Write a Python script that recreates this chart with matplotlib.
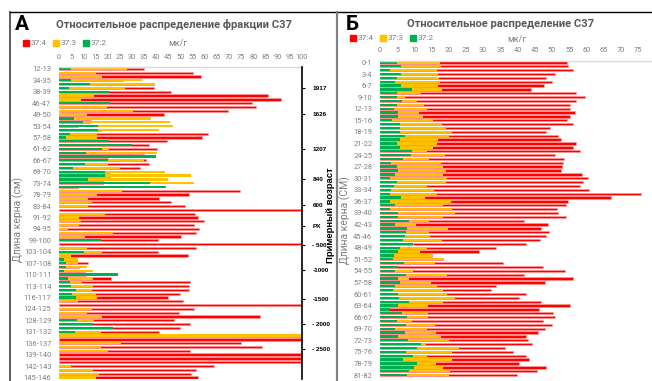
import matplotlib.pyplot as plt
from matplotlib.patches import Rectangle
from matplotlib.lines import Line2D
import numpy as np

plt.rcParams['font.family'] = ['Roboto', 'DejaVu Sans']

W, H = 652, 381
RED, YEL, GRN = '#FF0000', '#FFC000', '#00B050'
GRAY = '#7F7F7F'

# ---------- панель А ----------
labels_a = ["12-13", "34-35", "38-39", "46-47", "49-50", "53-54", "57-58", "61-62",
            "66-67", "69-70", "73-74", "78-79", "83-84", "91-92", "94-95", "99-100",
            "103-104", "107-108", "110-111", "113-114", "116-117", "124-125", "128-129",
            "131-132", "136-137", "139-140", "142-143", "145-146"]
red_a = [34.8, 55, 58.5, 26.5, 39, 39, 46, 86, 91.5, 79.6, 81, 69.5, 43.3, 13, 12.8, 7.7,
         17.3, 61.5, 59, 44.4, 37.2, 40.2, 35, 20, 36, 37, 33.4, 21, 21, 18.3, 18.3, 8,
         74.6, 53.6, 41.3, 46, 51.9, 110, 55.8, 57.1, 59.5, 55.4, 57.8, 56.5, 50.1, 40.6,
         110, 56.5, 40.9, 53, 7.3, 11.8, 8.4, 10.9, 11.2, 21.4, 54, 53.3, 53.6, 49.6, 45,
         51.1, 110, 55.4, 49.2, 82.7, 47.4, 53.8, 49.7, 41, 110, 110, 75, 83.4, 54, 110,
         110, 110, 63.6, 56.5, 54.5, 57]
yellow_a = [27.9, 15.1, 17.6, 34, 39, 27, 12, 14.6, 9, 20, 19.6, 30.6, 11.4, 37.8, 45.7,
            46.8, 41, 15.5, 15.5, 10.7, 14, 20.6, 40.2, 40, 35, 20.3, 24.9, 43.7, 54.4,
            44.8, 55.4, 44, 25.8, 15.5, 12.1, 13.5, 12, 0, 19, 8.4, 9, 8.4, 3.8, 22.4, 10.7,
            10.7, 0, 11.4, 17.6, 5.1, 7.4, 8, 11.4, 14, 6, 13.9, 9.6, 14, 13.5, 15.2, 15.7,
            7.7, 0, 13.6, 11.4, 17.6, 14.4, 10, 2.2, 17.3, 110, 0, 25.6, 17.3, 20, 0, 0, 0,
            5, 14, 16.5, 15.4]
green_a = [5, 0, 0, 5, 12.8, 4, 21, 0, 0, 21, 0, 0, 0, 6.2, 9.7, 16, 16, 4.5, 3, 20.6, 30,
           17.6, 11, 40, 20, 10.7, 5.9, 19, 19, 12, 37.5, 44, 0, 0, 0, 0, 0, 0, 0, 0, 0, 0,
           0, 0, 0, 17.3, 0, 0, 10.4, 0, 1.9, 3, 3, 2.2, 24.2, 3.7, 4.4, 5, 7, 5.5, 7, 0, 0,
           0, 0, 0, 7.6, 13.9, 22.3, 6.6, 0, 0, 0, 0, 0, 0, 0, 0, 0, 0, 0, 0]
age_labels = ["1917", "1626", "1207", "840", "600", "PX", "- 500", "-1000", "-1500",
              "- 2000", "- 2500"]
age_rows = [5.0, 11.8, 20.9, 28.8, 35.8, 41.3, 46.3, 52.9, 60.5, 66.9, 73.4]

# ---------- панель Б ----------
red_b = [54.3, 54.7, 56, 51, 48.4, 50, 47.7, 44, 57, 59.6, 57, 55.2, 55.2, 56.7, 55.2,
         54.3, 56, 49.4, 48.4, 51.7, 52.5, 57, 56.2, 58.3, 51, 53.5, 53.3, 53, 52.5, 58.6,
         60.6, 59, 58.3, 60.9, 76, 67.3, 54.7, 54, 51.4, 51.7, 54, 42, 48.9, 46.8, 49.2,
         48.4, 46.5, 42.6, 33.6, 28.8, 15, 18.4, 35.9, 47.5, 53.8, 42, 56, 48, 33.6, 32.3,
         42.6, 40.4, 46.7, 55.2, 46.3, 50.2, 51, 47.3, 49.9, 48, 46, 42.6, 42.9, 44.3,
         36.3, 38.8, 42.4, 43.4, 40.4, 48.4, 45.8, 39.7]
yellow_b = [17.4, 17.7, 16.5, 17, 17.2, 17.4, 17, 18, 11.8, 7.3, 10.9, 12.9, 13.6, 11.4,
            12.4, 15.5, 18, 19.2, 20.8, 20, 17, 16.7, 15.5, 13.6, 19, 14.3, 17.7, 18.4, 19.2,
            18.2, 19.4, 19.2, 13.6, 15.8, 16.5, 13, 20.6, 18.4, 21, 21.8, 18.2, 14.3, 10.5,
            19.9, 14.3, 14.5, 18, 10, 13.6, 11.6, 15, 18.2, 16, 5.3, 9.7, 19.4, 8.4, 14.8,
            16.7, 18.4, 19.6, 21.8, 18.4, 13.9, 1.5, 13.9, 13.9, 9.2, 16, 13.6, 16.3, 17.7,
            20.2, 13.3, 23, 20.8, 13.8, 20.8, 16.3, 18.4, 20.5, 20]
green_b = [4.8, 6, 3, 6, 4.8, 4.4, 6, 9.2, 4.8, 4.8, 6.3, 4.8, 4, 5.3, 5.3, 3.4, 5.8, 5.8,
           5.8, 7.3, 5.8, 5, 5.8, 9.2, 8.9, 6.8, 3.2, 4.8, 5.3, 4.4, 2.9, 4.8, 4, 3.1, 3,
           6.1, 2.9, 4.4, 2.9, 5.1, 5.1, 8.4, 4.4, 7.8, 7.6, 7.3, 6.6, 9.5, 5.8, 5.3, 4, 3.9,
           7, 5.3, 4.4, 7.6, 5.3, 5.8, 4.4, 3.9, 5.1, 5.5, 8.5, 5.3, 2.9, 6.3, 7.8, 4.8, 7.6,
           4.4, 7.3, 5.1, 8, 11.8, 10.7, 7.6, 9.5, 6.6, 10.7, 10, 8.4, 7.8]
labels_b = ["%d-%d" % (i, i + 1) for i in range(0, len(red_b), 3)]

fig = plt.figure(figsize=(W / 100, H / 100), dpi=100)


def fx(x):
    return x / W


def fy(y):
    return 1 - y / H


def panel(rect, red, yel, grn, labels, xmax, xticks):
    ax = fig.add_axes(rect)
    n = len(red)
    y = np.arange(n)
    ax.barh(y, red, height=0.6, color=RED, edgecolor='#FF9A9A', linewidth=0.4)
    ax.barh(y, yel, height=0.6, color=YEL, linewidth=0)
    ax.barh(y, grn, height=0.6, color=GRN, linewidth=0)
    ax.set_xlim(0, xmax)
    ax.set_ylim(n - 0.5, -0.5)
    ax.xaxis.tick_top()
    ax.set_xticks(xticks)
    ax.tick_params(axis='x', length=0, pad=4.5, labelsize=5.3, labelcolor=GRAY)
    ax.set_yticks(np.arange(0, n, 3))
    ax.set_yticklabels(labels)
    ax.tick_params(axis='y', length=0, pad=5.5, labelsize=5.4, labelcolor=GRAY)
    for s in ['left', 'right', 'bottom']:
        ax.spines[s].set_visible(False)
    ax.spines['top'].set_color('#D9D9D9')
    ax.spines['top'].set_linewidth(1)
    return ax


ax_a = panel([fx(59), fy(379.4), fx(243), 312.4 / H], red_a, yellow_a, green_a,
             labels_a, 100, np.arange(0, 101, 5))
ax_b = panel([fx(380), fy(377), fx(272), 316.5 / H], red_b, yellow_b, green_b,
             labels_b, 79.1, np.arange(0, 76, 5))

# правая ось возраста
ax2 = ax_a.twinx()
ax2.set_ylim(ax_a.get_ylim())
ax2.set_yticks(age_rows)
ax2.set_yticklabels(age_labels, fontweight='bold', fontsize=4.6,
                    family=['Liberation Sans', 'DejaVu Sans'])
ax2.tick_params(axis='y', length=2.5, width=0.8, pad=5, color='black')
for s in ['left', 'top', 'bottom']:
    ax2.spines[s].set_visible(False)
ax2.spines['right'].set_linewidth(1.2)
fig.text(fx(331), fy(215), "Примерный возраст", rotation=90, ha='center', va='center',
         fontsize=6.8, fontweight='bold', family=['Liberation Sans', 'DejaVu Sans'])

# подписи
fig.text(fx(21.5), fy(25), "А", fontsize=15, fontweight='bold', ha='center', va='center')
fig.text(fx(174), fy(25), "Относительное распределение фракции С37", fontsize=8,
         fontweight='bold', color='#595959', ha='center', va='center')
fig.text(fx(352), fy(24.5), "Б", fontsize=15, fontweight='bold', ha='center', va='center')
fig.text(fx(501), fy(24), "Относительное распределение С37", fontsize=8,
         fontweight='bold', color='#595959', ha='center', va='center')
fig.text(fx(18), fy(220), "Длина керна (см)", rotation=90, fontsize=7.5, color=GRAY,
         ha='center', va='center')
fig.text(fx(345), fy(220), "Длина керна (СМ)", rotation=90, fontsize=7.5, color=GRAY,
         ha='center', va='center')
fig.text(fx(178), fy(44), "мк/г", fontsize=6.5, color=GRAY, ha='center', va='center')
fig.text(fx(517), fy(39), "мк/г", fontsize=6.5, color=GRAY, ha='center', va='center')

# легенды
for x0, yc in [(23, 43), (350, 38)]:
    for i, (c, t) in enumerate([(RED, "37:4"), (YEL, "37:3"), (GRN, "37:2")]):
        xs = x0 + i * 30
        fig.add_artist(Rectangle((fx(xs), fy(yc + 3)), fx(6), 6 / H, color=c,
                                 transform=fig.transFigure))
        fig.text(fx(xs + 7.5), fy(yc), t, fontsize=6, color=GRAY, va='center')

# рамки
fig.add_artist(Line2D([fx(10), fx(10)], [fy(12), 0], color='#404040', lw=1.2))
fig.add_artist(Line2D([fx(10), 1], [fy(12), fy(12)], color='black', lw=1))
fig.add_artist(Line2D([fx(337), fx(337)], [fy(12), 0], color='#808080', lw=1.6))

fig.savefig("out.png", dpi=100)
